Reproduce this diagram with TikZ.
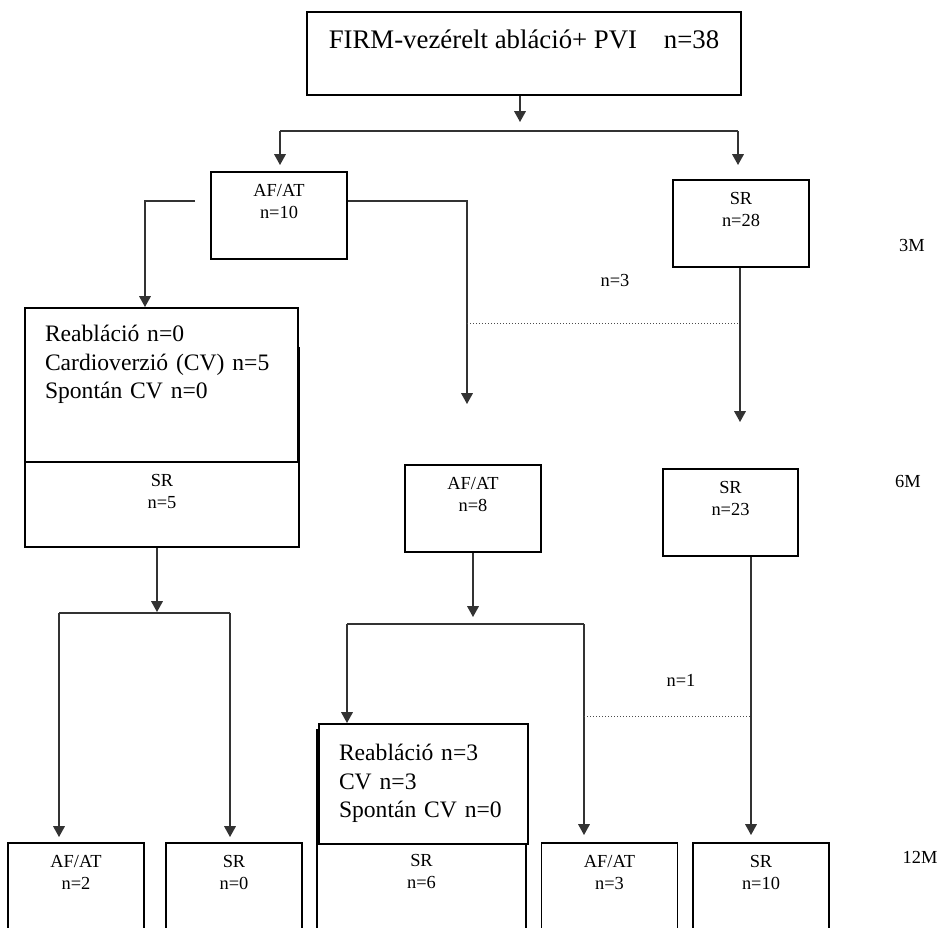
\documentclass[tikz,border=0pt]{standalone}
\usepackage{fontspec}
\setmainfont{Liberation Serif}
\usetikzlibrary{arrows.meta,positioning}

\tikzset{
  tbox/.style={draw, line width=0.9pt, anchor=north, align=center, minimum width=217pt,
    inner xsep=0pt, inner ysep=9pt, text height=9.3pt, text depth=14.2pt,
    font=\fontsize{13.4}{16}\selectfont},
  sbox/.style={draw, line width=0.9pt, fill=white, anchor=north, align=center,
    minimum width=68pt, inner xsep=0pt, inner ysep=6pt, text height=17.3pt,
    text depth=14.2pt, font=\fontsize{9.2}{11}\selectfont},
  lbox/.style={draw, line width=0.9pt, fill=white, anchor=north, align=left,
    inner xsep=10pt, inner ysep=9pt, text height=7.9pt,
    font=\fontsize{11.8}{14.2}\selectfont},
  conn/.style={line width=0.6pt, draw=black!80},
  arr/.style={conn, -{Triangle[width=5.8pt,length=5.4pt]}},
  dots/.style={line width=0.5pt, densely dotted, draw=black!70},
  lab/.style={inner sep=0pt, font=\fontsize{9.2}{11}\selectfont}
}

\begin{document}
\begin{tikzpicture}[x=0.5pt,y=-0.5pt]
\useasboundingbox (0,0) rectangle (945,927);
\clip (0,0) rectangle (945,927);

\node[tbox] at (524,11) (firm) {FIRM-vezérelt abláció+ PVI\quad n=38};

% 3M
\node[sbox] at (279,171) (af3) {AF/AT\\n=10};
\node[sbox] at (741,179) (sr3) {SR\\n=28};
\node[lab] at (912,245) (m3) {3M};

% 6M
\node[sbox, minimum width=137pt, text height=74.5pt, text depth=13pt] at (162,347) (srA) {SR\\n=5};
\node[lbox, text width=116.5pt, text depth=51.1pt] at (161.5,307) (txtA)
  {Reabláció n=0\\Cardioverzió (CV) n=5\\Spontán CV n=0};
\node[sbox] at (473,464) (af6) {AF/AT\\n=8};
\node[sbox, minimum width=67.5pt] at (730.5,468) (sr6) {SR\\n=23};
\node[lab] at (908,481) (m6) {6M};

% 12M
\node[sbox, text depth=19pt] at (76,842) (af12a) {AF/AT\\n=2};
\node[sbox, text depth=19pt] at (234,842) (sr12a) {SR\\n=0};
\node[sbox, minimum width=104.5pt, text height=73.5pt, text depth=19pt] at (421.5,729) (srB) {SR\\n=6};
\node[lbox, text width=84.5pt, text height=9.4pt, text depth=32.6pt] at (423.5,723) (txtB)
  {Reabláció n=3\\CV n=3\\Spontán CV n=0};
\node[sbox, text depth=19pt] at (609.5,842) (af12b) {AF/AT\\n=3};
\node[sbox, text depth=19pt] at (761,842) (sr12b) {SR\\n=10};
\node[lab] at (920,857) (m12) {12M};

\node[lab] at (615,280) (n3) {n=3};
\node[lab] at (681,680) (n1) {n=1};

% first split
\coordinate (j0) at (520,122);
\coordinate (s0l) at (280,131);
\coordinate (s0r) at (738,131);
\draw[arr] (firm.south -| j0) -- (j0);
\draw[conn] (s0l) -- (s0r);
\draw[arr, shorten >=3pt] (s0l) -- (s0l |- af3.north);
\draw[arr, shorten >=7pt] (s0r) -- (s0r |- sr3.north);

% from AF/AT n=10
\coordinate (a1) at (195,201);
\coordinate (a2) at (145,201);
\coordinate (b1) at (467,201);
\coordinate (b2) at (467,404);
\draw[arr] (a1) -- (a2) -- (a2 |- txtA.north);
\draw[arr] (af3.east |- b1) -- (b1) -- (b2);

% from SR n=28
\coordinate (c1) at (740,422);
\coordinate (d1) at (467,323);
\draw[arr] (sr3.south -| c1) -- (c1);
\draw[dots] (d1) -- (d1 -| c1);

% from SR n=5
\coordinate (e0) at (157,612);
\coordinate (e1) at (59,613);
\coordinate (e2) at (230,613);
\draw[arr] (srA.south -| e0) -- (e0);
\draw[conn] (e1) -- (e2);
\draw[arr, shorten >=2.5pt] (e1) -- (e1 |- af12a.north);
\draw[arr, shorten >=2.5pt] (e2) -- (e2 |- sr12a.north);

% from AF/AT n=8
\coordinate (f0) at (473,617);
\coordinate (f1) at (347,624);
\coordinate (f2) at (584,624);
\draw[arr] (af6.south) -- (f0);
\draw[conn] (f1) -- (f2);
\draw[arr] (f1) -- (f1 |- txtB.north);
\draw[arr, shorten >=3.5pt] (f2) -- (f2 |- af12b.north);

% from SR n=23
\coordinate (g) at (751,716);
\draw[arr, shorten >=3.5pt] (sr6.south -| g) -- (g |- sr12b.north);
\draw[dots] (f2 |- g) -- (g);

\end{tikzpicture}
\end{document}
